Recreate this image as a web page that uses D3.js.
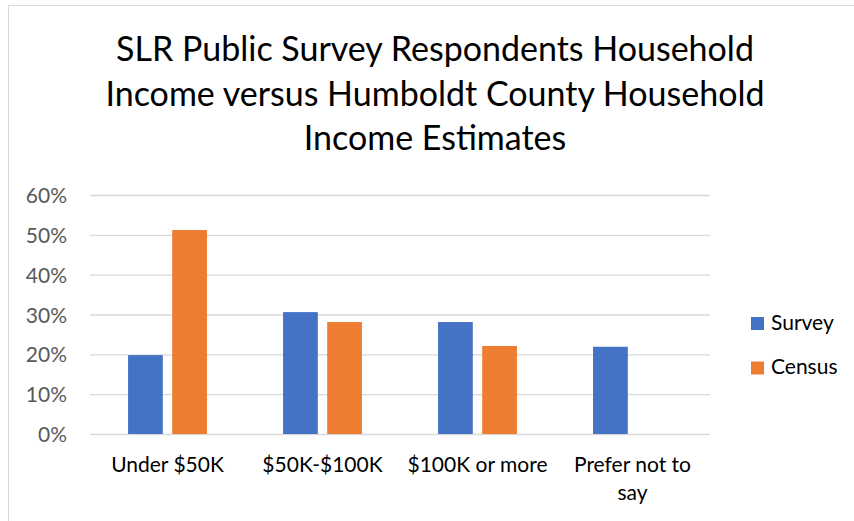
<!DOCTYPE html>
<html>
<head>
<meta charset="utf-8">
<script src="https://cdn.jsdelivr.net/npm/d3@7"></script>
<style>
  html, body { margin: 0; padding: 0; background: #fff; }
  svg { display: block; }
  text { font-family: Lato, "Open Sans", "DejaVu Sans", sans-serif; }
</style>
</head>
<body>
<svg id="chart" width="854" height="521"></svg>
<script>
const titleLines = ["SLR Public Survey Respondents Household", "Income versus Humboldt County Household", "Income Estimates"];
const categories = [["Under $50K"], ["$50K-$100K"], ["$100K or more"], ["Prefer not to", "say"]];
const categoryKeys = ["Under $50K", "$50K-$100K", "$100K or more", "Prefer not to say"];
const seriesNames = ["Survey", "Census"];
const surveyValues = [0.198, 0.306, 0.281, 0.219];
const censusValues = [0.512, 0.281, 0.221, null];
const yTicks = [0, 0.1, 0.2, 0.3, 0.4, 0.5, 0.6];
const colors = ["#4472C4", "#ED7D31"];

const svg = d3.select("#chart");
const margin = { left: 90, right: 710, top: 195, bottom: 434 };

// outer border
svg.append("rect").attr("x", 8.5).attr("y", 5.5).attr("width", 900).attr("height", 600)
  .attr("fill", "none").attr("stroke", "#D9D9D9").attr("stroke-width", 1);

// title
const title = svg.append("text").attr("text-anchor", "middle")
  .attr("font-size", 34).attr("fill", "#000");
titleLines.forEach((t, i) => {
  title.append("tspan").attr("x", 435).attr("y", 61 + i * 44.5).text(t);
});

const x0 = d3.scaleBand().domain(categoryKeys).range([margin.left, margin.right]).paddingInner(0).paddingOuter(0);
const y = d3.scaleLinear().domain([0, 0.6]).range([margin.bottom, margin.top]);

// bar geometry mimicking Excel: gap width 219%, overlap -27%
const bw = x0.bandwidth() / (2 + 0.27 + 2.19);
const gap = 0.27 * bw;

// gridlines
const yAxis = d3.axisLeft(y).tickValues(yTicks).tickFormat(d3.format(".0%"))
  .tickSize(-(margin.right - margin.left)).tickPadding(23);
const gy = svg.append("g").attr("transform", `translate(${margin.left},0)`).call(yAxis);
gy.select(".domain").remove();
gy.selectAll(".tick line").attr("stroke", "#D9D9D9").attr("stroke-width", 1.4);
gy.selectAll(".tick text").attr("fill", "#595959").attr("font-size", 21)
  .attr("font-family", "Lato, 'Open Sans', sans-serif").attr("dy", "0.36em");

// bars
const data = categoryKeys.map((k, i) => ({ key: k, vals: [surveyValues[i], censusValues[i]] }));
const groups = svg.append("g").selectAll("g").data(data).join("g")
  .attr("transform", d => `translate(${x0(d.key) + x0.bandwidth() / 2},0)`);
groups.selectAll("rect").data(d => d.vals.map((v, j) => ({ v, j })).filter(e => e.v != null))
  .join("rect")
  .attr("x", e => e.j === 0 ? -gap / 2 - bw : gap / 2)
  .attr("width", bw)
  .attr("y", e => y(e.v))
  .attr("height", e => y(0) - y(e.v))
  .attr("fill", e => colors[e.j]);

// category labels
const labels = svg.append("g").selectAll("text").data(categories).join("text")
  .attr("text-anchor", "middle").attr("font-size", 21).attr("fill", "#000");
labels.each(function (lines, i) {
  const cx = x0(categoryKeys[i]) + x0.bandwidth() / 2;
  d3.select(this).selectAll("tspan").data(lines).join("tspan")
    .attr("x", cx).attr("y", (d, k) => 472 + k * 28).text(d => d);
});

// legend
const legend = svg.append("g").selectAll("g").data(seriesNames).join("g")
  .attr("transform", (d, i) => `translate(751,${317 + i * 44.5})`);
legend.append("rect").attr("width", 13).attr("height", 13).attr("fill", (d, i) => colors[i]);
legend.append("text").attr("x", 20).attr("y", 12.5).attr("font-size", 21).attr("fill", "#000").text(d => d);
</script>
</body>
</html>
